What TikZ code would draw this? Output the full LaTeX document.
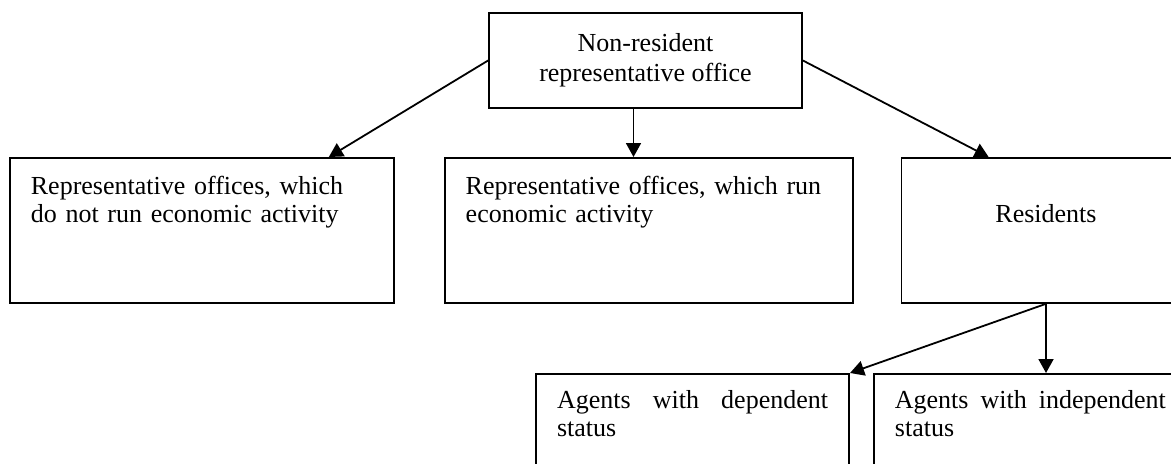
\documentclass[tikz,border=0pt]{standalone}
\usepackage{fontspec}
\setmainfont{Liberation Serif}
\usetikzlibrary{positioning,arrows.meta}

\begin{document}
\begin{tikzpicture}[
    x=0.5pt, y=-0.5pt,
    node distance=24.5pt,
    box/.style={rectangle, draw, line width=0.9pt, inner xsep=10.5pt, inner ysep=0pt, align=left, font=\fontsize{13}{14}\selectfont, text height=18.5pt, text depth=54pt},
    topbox/.style={rectangle, draw, line width=0.9pt, align=center, font=\fontsize{13}{15}\selectfont, minimum width=156.5pt, minimum height=47.5pt},
    agentbox/.style={box, text width=135.5pt, align=justify, text height=17.5pt, text depth=50pt},
    arrow/.style={-{Triangle[length=7pt,width=7.5pt]}, line width=0.9pt}
  ]
  \useasboundingbox (0,0) rectangle (1171,463);

  % Top box
  \node[topbox] (office) at (645.5,60.5) {Non-resident\\representative office};

  % Second row
  \node[box, text width=171pt, anchor=north west] (norun) at (9,157) {Representative offices, which\\do not run economic activity};
  \node[box, text width=183pt, right=of norun] (run) {Representative offices, which run\\economic activity};
  \node[box, text width=123.5pt, align=center, text height=32.5pt, text depth=40pt, right=23.5pt of run] (resid) {Residents};

  % Third row
  \node[agentbox, anchor=north east] (dep) at (850,373) {Agents with dependent status};
  \node[agentbox, right=11.5pt of dep] (indep) {Agents with independent status};

  % Arrows from the top box
  \draw[arrow] (office.west) -- ([xshift=-33pt]norun.north east);
  \draw[arrow] ([xshift=-6pt]office.south) -- ([xshift=-6pt]office.south |- run.north);
  \draw[arrow] (office.east) -- ([xshift=44pt]resid.north west);

  % Arrows from residents
  \draw[arrow] (resid.south) -- (dep.north east);
  \draw[arrow] (resid.south) -- (resid.south |- indep.north);
\end{tikzpicture}
\end{document}
